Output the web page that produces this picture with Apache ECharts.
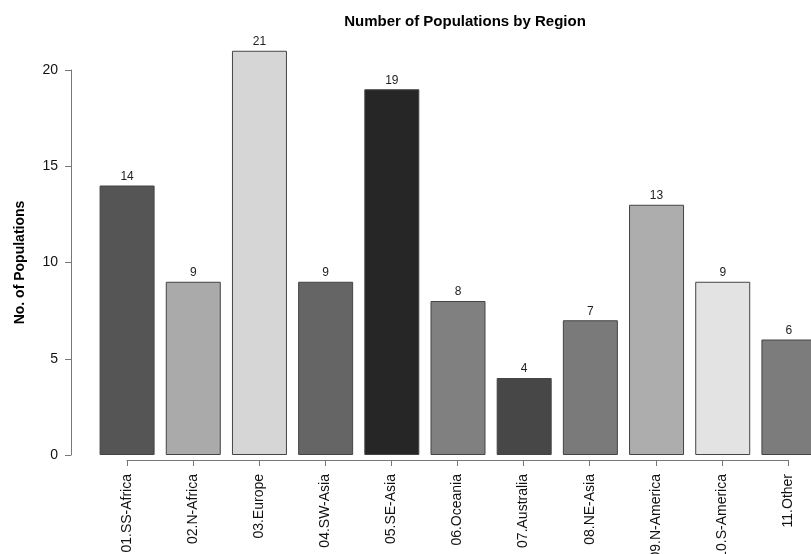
<!DOCTYPE html>
<html><head><meta charset="utf-8">
<script src="https://cdn.jsdelivr.net/npm/echarts@6/dist/echarts.min.js"></script>
<style>html,body{margin:0;padding:0;background:#fff}#c{width:811px;height:554px}</style>
</head><body><div id="c"></div>
<script>
const categories = ["01.SS-Africa","02.N-Africa","03.Europe","04.SW-Asia","05.SE-Asia","06.Oceania","07.Australia","08.NE-Asia","09.N-America","10.S-America","11.Other"];
const values = [14, 9, 21, 9, 19, 8, 4, 7, 13, 9, 6];
const barColors = ["#555555","#aaaaaa","#d6d6d6","#656565","#262626","#808080","#474747","#7a7a7a","#adadad","#e3e3e3","#7c7c7c"];
const yTicks = [0, 5, 10, 15, 20];

const chart = echarts.init(document.getElementById('c'));
const font = 'Liberation Sans, Arial, sans-serif';
chart.setOption({
  animation: false,
  title: {
    text: 'Number of Populations by Region', left: 460, top: 9, textAlign: 'center',
    textStyle: {fontFamily: font, fontSize: 15, fontWeight: 'bold', color: '#000'}
  },
  grid: [
    {left: 94, width: 728, top: 70, height: 385, containLabel: false, outerBoundsMode: 'none'},
    {left: 127, width: 661, top: 440, height: 20, containLabel: false, outerBoundsMode: 'none'}
  ],
  xAxis: [
    {type: 'category', gridIndex: 0, data: categories, axisLine: {show: false}, axisTick: {show: false}, axisLabel: {show: false}},
    {type: 'category', gridIndex: 1, data: categories, boundaryGap: false,
     axisLine: {show: true, lineStyle: {color: '#777', width: 1}},
     axisTick: {show: true, length: 6, lineStyle: {color: '#777'}},
     axisLabel: {show: true, rotate: 90, interval: 0, margin: 14, fontFamily: font, fontSize: 14, color: '#111'}}
  ],
  yAxis: [
    {type: 'value', gridIndex: 0, min: 0, max: 20, interval: 5, offset: 23,
     name: 'No. of Populations', nameLocation: 'middle', nameGap: 44,
     nameTextStyle: {fontFamily: font, fontSize: 14, fontWeight: 'bold', color: '#000'},
     axisLine: {show: true, lineStyle: {color: '#777'}},
     axisTick: {show: true, length: 6, lineStyle: {color: '#777'}},
     axisLabel: {margin: 13, fontFamily: font, fontSize: 14, color: '#111', customValues: yTicks},
     splitLine: {show: false}},
    {type: 'value', gridIndex: 1, show: false}
  ],
  series: [{
    type: 'bar', xAxisIndex: 0, yAxisIndex: 0, clip: false, barWidth: 55,
    data: values.map((v, i) => ({value: v, itemStyle: {color: barColors[i]}})),
    itemStyle: {borderColor: '#444', borderWidth: 1},
    label: {show: true, position: 'top', distance: 3, fontFamily: font, fontSize: 12, color: '#222'}
  }]
});
</script></body></html>
